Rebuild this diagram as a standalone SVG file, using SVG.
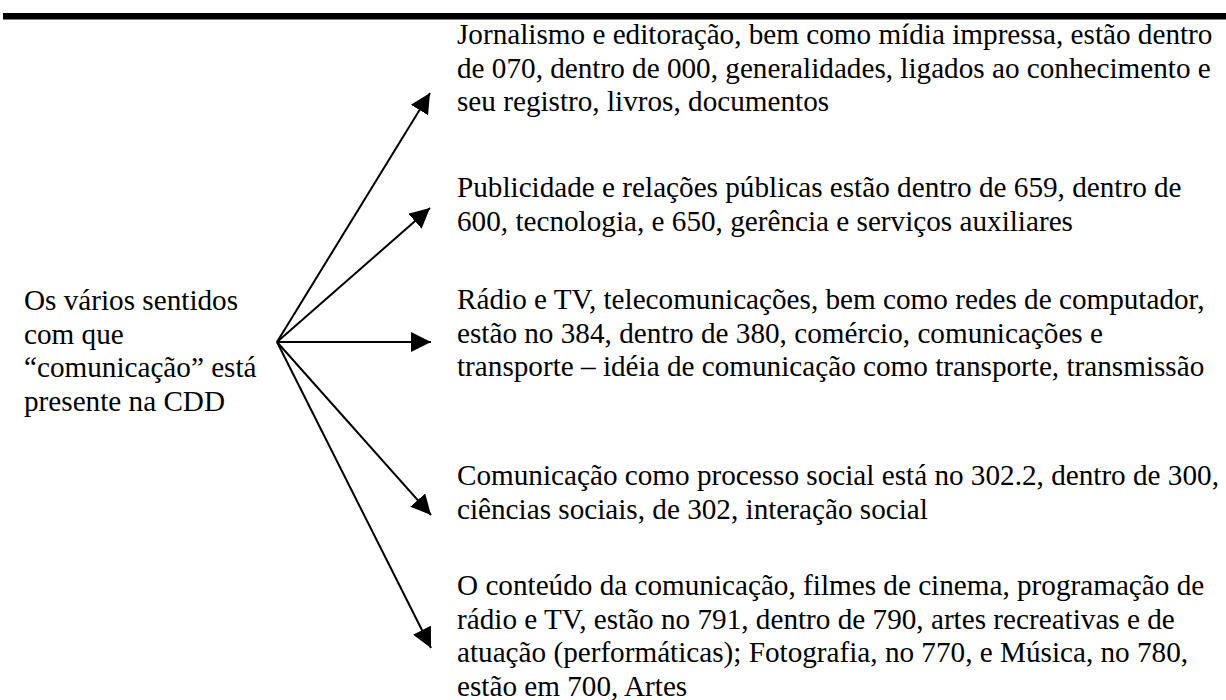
<svg xmlns="http://www.w3.org/2000/svg" width="1226" height="700" viewBox="0 0 1226 700">
<style>
.t{font-family:"Liberation Serif","Times New Roman",serif;font-size:29.2px;fill:#000}
.c{stroke:#000;stroke-width:2;fill:none;marker-end:url(#ah)}
</style>
<defs>
<marker id="ah" markerUnits="userSpaceOnUse" markerWidth="20" markerHeight="20" viewBox="0 0 20 20" refX="20" refY="10" orient="auto">
<path d="M0,0 L20,10 L0,20 Z" fill="#000"/>
</marker>
</defs>
<rect width="1226" height="700" fill="#fff"/>
<rect x="3" y="13" width="1223" height="6.5" fill="#000"/>
<g id="source">
<text class="t"><tspan x="24" y="310">Os vários sentidos</tspan><tspan x="24" y="343.5">com que</tspan><tspan x="24" y="377">“comunicação” está</tspan><tspan x="24" y="410.5">presente na CDD</tspan></text>
</g>
<g id="n1">
<text class="t"><tspan x="457" y="44">Jornalismo e editoração, bem como mídia impressa, estão dentro</tspan><tspan x="457" y="77.5">de 070, dentro de 000, generalidades, ligados ao conhecimento e</tspan><tspan x="457" y="111">seu registro, livros, documentos</tspan></text>
</g>
<g id="n2">
<text class="t"><tspan x="457" y="197">Publicidade e relações públicas estão dentro de 659, dentro de</tspan><tspan x="457" y="230.5">600, tecnologia, e 650, gerência e serviços auxiliares</tspan></text>
</g>
<g id="n3">
<text class="t"><tspan x="457" y="309">Rádio e TV, telecomunicações, bem como redes de computador,</tspan><tspan x="457" y="342.5">estão no 384, dentro de 380, comércio, comunicações e</tspan><tspan x="457" y="376">transporte – idéia de comunicação como transporte, transmissão</tspan></text>
</g>
<g id="n4">
<text class="t"><tspan x="457" y="485">Comunicação como processo social está no 302.2, dentro de 300,</tspan><tspan x="457" y="518.5">ciências sociais, de 302, interação social</tspan></text>
</g>
<g id="n5">
<text class="t"><tspan x="457" y="595">O conteúdo da comunicação, filmes de cinema, programação de</tspan><tspan x="457" y="628.5">rádio e TV, estão no 791, dentro de 790, artes recreativas e de</tspan><tspan x="457" y="662">atuação (performáticas); Fotografia, no 770, e Música, no 780,</tspan><tspan x="457" y="695.5">estão em 700, Artes</tspan></text>
</g>
<g id="connectors">
<line class="c" x1="277" y1="342" x2="430" y2="93"/>
<line class="c" x1="277" y1="342" x2="430" y2="208"/>
<line class="c" x1="277" y1="342" x2="431" y2="342"/>
<line class="c" x1="277" y1="342" x2="431" y2="515"/>
<line class="c" x1="277" y1="342" x2="431" y2="648"/>
</g>
</svg>
